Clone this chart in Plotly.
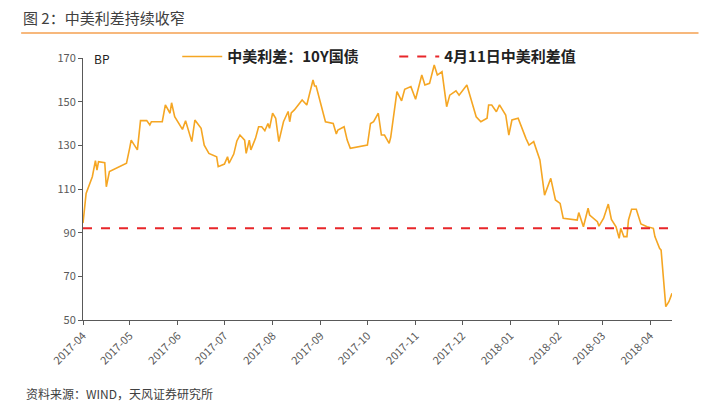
import pandas as pd
import plotly.graph_objects as go

# days since 2017-04-01 and China-US 10Y spread (BP)
days = [0, 2, 6, 8, 9, 10, 14, 15, 17, 23, 28, 30, 31, 35, 37, 41, 43, 44, 51, 53,
        56, 57, 59, 64, 66, 70, 72, 76, 78, 81, 86, 87, 91, 93, 94, 97, 99, 101, 104, 105,
        107, 108, 111, 113, 115, 117, 119, 120, 122, 124, 126, 129, 132, 133, 134, 136, 141, 144, 148, 149,
        150, 156, 161, 163, 164, 168, 170, 172, 183, 185, 187, 190, 192, 194, 197, 198, 202, 205, 207, 211,
        214, 218, 220, 223, 226, 228, 231, 234, 236, 240, 242, 247, 253, 256, 260, 261, 263, 266, 268, 272,
        274, 276, 280, 285, 287, 290, 294, 297, 301, 304, 307, 309, 318, 319, 322, 325, 326, 331, 332, 335,
        338, 340, 343, 345, 346, 348, 350, 351, 353, 356, 359, 363, 367, 368, 371, 372, 374, 375, 377, 379]
spread = [94.4, 108, 115.6, 123, 118.7, 122.5, 122, 111, 118, 120, 121.8, 128.6, 132.4, 127.9, 141.3, 141.3, 139.3, 140.8, 140.8, 148.5,
          144.7, 149.5, 143.1, 137.3, 141.3, 131.7, 141.6, 137.8, 130.1, 126.3, 124.8, 120.2, 121.4, 124.8, 121.8, 126, 132, 134.7, 132.4, 126.3,
          132.4, 127.9, 133.2, 138.5, 138.5, 136.7, 140, 137.8, 144.7, 142.4, 131.7, 140.8, 145.5, 140.8, 144.9, 146.2, 150.8, 148.5, 159.9, 157.2,
          157.2, 140.8, 140, 135.2, 137, 138.5, 132.4, 128.6, 130.1, 140, 140.8, 144.7, 134.7, 134.7, 130.9, 133.7, 154.6, 150.4, 155.7, 156.9,
          151.1, 162.2, 157.6, 158.4, 166.8, 162.2, 163.7, 147.7, 153, 155, 153, 157.6, 143.1, 140.8, 142.4, 148.5, 148.5, 145.4, 148.5, 143.9,
          134.7, 141.6, 142.4, 133.2, 130.1, 131.7, 123.3, 107.2, 114.9, 105, 103.4, 96.6, 95.8, 99.2, 92.7, 101.2, 98.1, 95, 93, 96.6,
          103.1, 96.1, 92.7, 87.4, 92, 88.2, 88.2, 95.8, 100.7, 100.7, 94, 92.7, 92, 88.2, 82.8, 82, 62.2, 56.1, 58.4, 62.2]
apr11_value = 92
dates = pd.Timestamp("2017-04-01") + pd.to_timedelta(days, unit="D")

font = "Noto Sans CJK SC"
fig = go.Figure()
fig.add_trace(go.Scatter(x=dates, y=spread, mode="lines", name="中美利差：10Y国债",
                         line=dict(color="#F5A623", width=1.6)))
fig.add_trace(go.Scatter(x=[dates[0], pd.Timestamp("2018-04-15")], y=[apr11_value, apr11_value],
                         mode="lines", name="4月11日中美利差值",
                         line=dict(color="#E8262A", width=2, dash="dash")))

# page has an 8px body margin, so margins are shifted to land the plot where the reference has it
fig.update_layout(
    width=714, height=414, plot_bgcolor="white", paper_bgcolor="white",
    margin=dict(l=75, r=50, t=50, b=102, autoexpand=False),
    font=dict(family=font, size=11, color="#595959"),
    showlegend=True,
    legend=dict(orientation="h", x=0.16, y=1.005, xanchor="left", yanchor="middle",
                font=dict(size=15, color="#222222", weight="bold"), bgcolor="rgba(0,0,0,0)",
                itemwidth=40, entrywidth=162, entrywidthmode="pixels"),
    annotations=[
        dict(text="图 2：中美利差持续收窄", x=-0.105, y=1.153, xref="paper", yref="paper",
             showarrow=False, xanchor="left", yanchor="middle", font=dict(size=15, color="#404040")),
        dict(text="BP", x=0.015, y=1.0, xref="paper", yref="paper", showarrow=False,
             xanchor="left", yanchor="middle", font=dict(size=12, color="#222222")),
        dict(text="资料来源：WIND，天风证券研究所", x=-0.1, y=-0.279, xref="paper", yref="paper",
             showarrow=False, xanchor="left", yanchor="middle", font=dict(size=12, color="#404040")),
    ],
    shapes=[dict(type="line", xref="paper", yref="paper", x0=-0.105, x1=1.045, y0=1.095, y1=1.095,
                 line=dict(color="#F5A050", width=1.5))],
)
fig.update_xaxes(range=[pd.Timestamp("2017-04-01"), pd.Timestamp("2018-04-15")],
                 tickformat="%Y-%m", dtick="M1", tick0="2017-04-01", tickangle=-45,
                 showgrid=False, showline=True, linecolor="#595959", ticks="outside",
                 ticklen=4, tickcolor="#595959", zeroline=False)
fig.update_yaxes(range=[50, 170], dtick=20, tick0=50, showgrid=False, showline=True,
                 linecolor="#595959", ticks="outside", ticklen=4, tickcolor="#595959",
                 zeroline=False)

fig.write_html("out.html")
